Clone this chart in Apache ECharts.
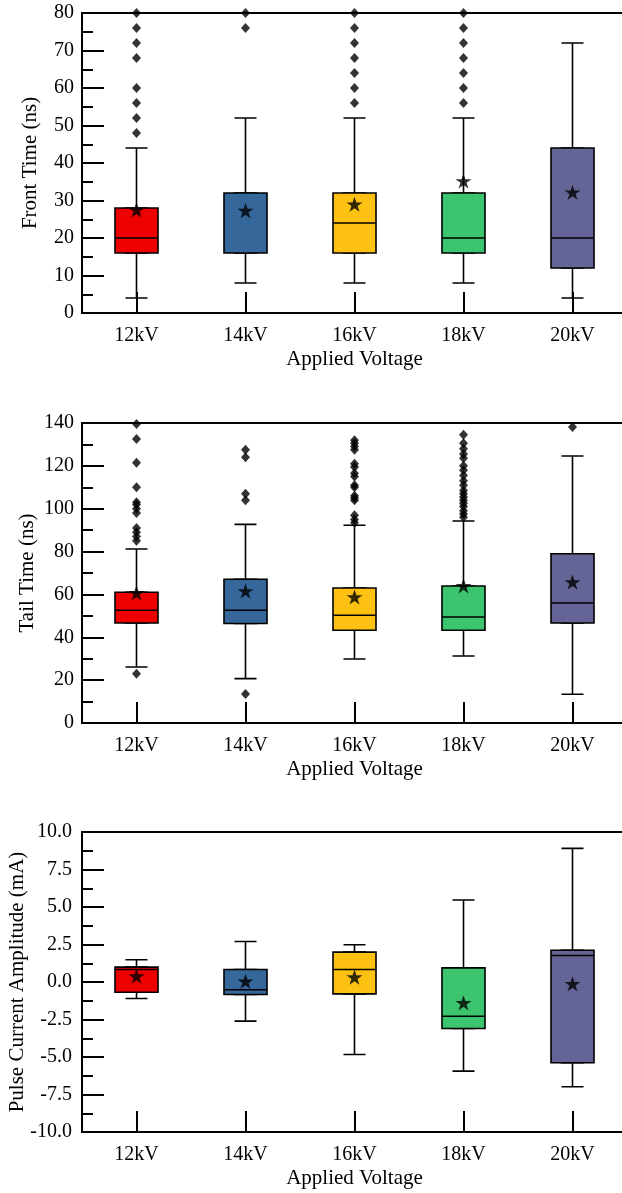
<!DOCTYPE html>
<html>
<head>
<meta charset="utf-8">
<script src="https://cdn.jsdelivr.net/npm/echarts@6/dist/echarts.min.js"></script>
<style>
  html, body { margin: 0; padding: 0; background: #fff; }
  #chart { width: 622px; height: 1193px; }
</style>
</head>
<body>
<div id="chart"></div>
<script>
// categories and box colours
const categories = ["12kV", "14kV", "16kV", "18kV", "20kV"];
const boxColors = ["#EE0000", "#35679A", "#FDC112", "#3CC46F", "#646496"];

// front time: [min, Q1, median, Q3, max]
const frontBox = [
  [4, 16, 20, 28, 44],
  [8, 16, 16, 32, 52],
  [8, 16, 24, 32, 52],
  [8, 16, 20, 32, 52],
  [4, 12, 20, 44, 72],
];
const frontMean = [27.5, 27.3, 29, 35.2, 32.2];
const frontOutliers = [
  [48, 52, 56, 60, 68, 72, 76, 80],
  [76, 80],
  [56, 60, 64, 68, 72, 76, 80],
  [56, 60, 64, 68, 72, 76, 80],
  [],
];

// tail time
const tailBox = [
  [26.1, 46.7, 52.6, 61, 81.2],
  [20.7, 46.4, 52.6, 67.1, 92.7],
  [29.9, 43.3, 50.3, 63, 92.3],
  [31.3, 43.3, 49.5, 63.9, 94.3],
  [13.4, 46.7, 56, 79, 124.6],
];
const tailMean = [60.7, 61.6, 58.8, 64, 65.8];
const tailOutliers = [
  [23, 85, 87, 89, 91, 98, 100, 102, 103, 110, 121.5, 132.5, 139.5],
  [13.5, 104, 107, 124, 127.5],
  [93.5, 95, 97, 104, 105, 106, 110, 111, 115, 116.5, 119.5, 121, 127.5, 129, 130.5, 132],
  [96, 97.5, 99, 101, 102.5, 104, 105.5, 107, 108.5, 111, 113, 115.5, 118, 120, 123.5, 125.5, 128, 130.5, 134.5],
  [138.1],
];

// pulse current amplitude
const pulseBox = [
  [-1.1, -0.68, 0.83, 0.99, 1.48],
  [-2.61, -0.83, -0.52, 0.83, 2.7],
  [-4.83, -0.79, 0.83, 1.99, 2.48],
  [-5.94, -3.1, -2.28, 0.94, 5.47],
  [-6.98, -5.38, 1.77, 2.12, 8.91],
];
const pulseMean = [0.39, 0.05, 0.32, -1.39, -0.12];
const pulseOutliers = [[], [], [], [], []];

const panels = [
  { name: "Front Time (ns)", box: frontBox, mean: frontMean, out: frontOutliers,
    top: 13, min: 0, max: 80, interval: 10, nameGap: 41, labelMargin: 8, digits: 0 },
  { name: "Tail Time (ns)", box: tailBox, mean: tailMean, out: tailOutliers,
    top: 423, min: 0, max: 140, interval: 20, nameGap: 44, labelMargin: 8, digits: 0 },
  { name: "Pulse Current Amplitude (mA)", box: pulseBox, mean: pulseMean, out: pulseOutliers,
    top: 832, min: -10, max: 10, interval: 2.5, nameGap: 54, labelMargin: 10, digits: 1 },
];

const font = "Liberation Serif";
const starPath = "path://M12,0 L14.9,8.6 L24,8.6 L16.6,14 L19.4,22.8 L12,17.4 L4.6,22.8 L7.4,14 L0,8.6 L9.1,8.6 Z";

const grid = [], xAxis = [], yAxis = [], series = [];

panels.forEach((p, k) => {
  grid.push({
    left: 82, top: p.top, width: 545, height: 300,
    outerBoundsMode: "none", containLabel: false,
    show: true, borderColor: "#000", borderWidth: 2, backgroundColor: "transparent",
  });
  xAxis.push({
    type: "category", gridIndex: k, data: categories,
    name: "Applied Voltage", nameLocation: "middle", nameGap: 36, nameMoveOverlap: false,
    nameTextStyle: { fontFamily: font, fontSize: 21, color: "#000" },
    axisLine: { show: true, onZero: false, lineStyle: { color: "#000", width: 2 } },
    axisTick: { show: true, inside: true, length: 21, alignWithLabel: true, lineStyle: { color: "#000", width: 2 } },
    axisLabel: { fontFamily: font, fontSize: 20, color: "#000", margin: 13 },
    splitLine: { show: false },
  });
  // hidden axis for the whisker series so it does not sit beside the box
  xAxis.push({
    type: "category", gridIndex: k, data: categories, show: false,
  });
  yAxis.push({
    type: "value", gridIndex: k, min: p.min, max: p.max, interval: p.interval,
    name: p.name, nameLocation: "middle", nameGap: p.nameGap, nameMoveOverlap: false,
    nameTextStyle: { fontFamily: font, fontSize: 21, color: "#000" },
    axisLine: { show: true, onZero: false, lineStyle: { color: "#000", width: 2 } },
    axisTick: { show: true, inside: true, length: 22, lineStyle: { color: "#000", width: 2 } },
    minorTick: { show: true, splitNumber: 2, length: 11, lineStyle: { color: "#000", width: 2 } },
    axisLabel: {
      fontFamily: font, fontSize: 20, color: "#000", margin: p.labelMargin,
      formatter: (v) => v.toFixed(p.digits),
    },
    splitLine: { show: false },
  });

  // whiskers with short caps
  series.push({
    type: "boxplot", xAxisIndex: 2 * k + 1, yAxisIndex: k, z: 1,
    boxWidth: [22, 22],
    itemStyle: { color: "#fff", borderColor: "#000", borderWidth: 1.6 },
    emphasis: { disabled: true },
    data: p.box,
  });
  // coloured boxes
  series.push({
    type: "boxplot", xAxisIndex: 2 * k, yAxisIndex: k, z: 2,
    boxWidth: [43, 43],
    itemStyle: { borderColor: "#000", borderWidth: 1.6 },
    emphasis: { disabled: true },
    data: p.box.map((b, i) => ({
      value: [b[1], b[1], b[2], b[3], b[3]],
      itemStyle: { color: boxColors[i] },
    })),
  });
  // outliers
  const outData = [];
  p.out.forEach((vals, i) => vals.forEach((v) => outData.push([i, v])));
  series.push({
    type: "scatter", xAxisIndex: 2 * k, yAxisIndex: k, z: 3,
    symbol: "diamond", symbolSize: [9, 10],
    itemStyle: { color: "#000" },
    data: outData,
  });
  // means
  series.push({
    type: "scatter", xAxisIndex: 2 * k, yAxisIndex: k, z: 4,
    symbol: starPath, symbolSize: 16, symbolKeepAspect: true,
    itemStyle: { color: "#000" },
    data: p.mean.map((v, i) => [i, v]),
  });
});

const chart = echarts.init(document.getElementById("chart"));
chart.setOption({
  animation: false,
  backgroundColor: "#fff",
  grid, xAxis, yAxis, series,
});
</script>
</body>
</html>
